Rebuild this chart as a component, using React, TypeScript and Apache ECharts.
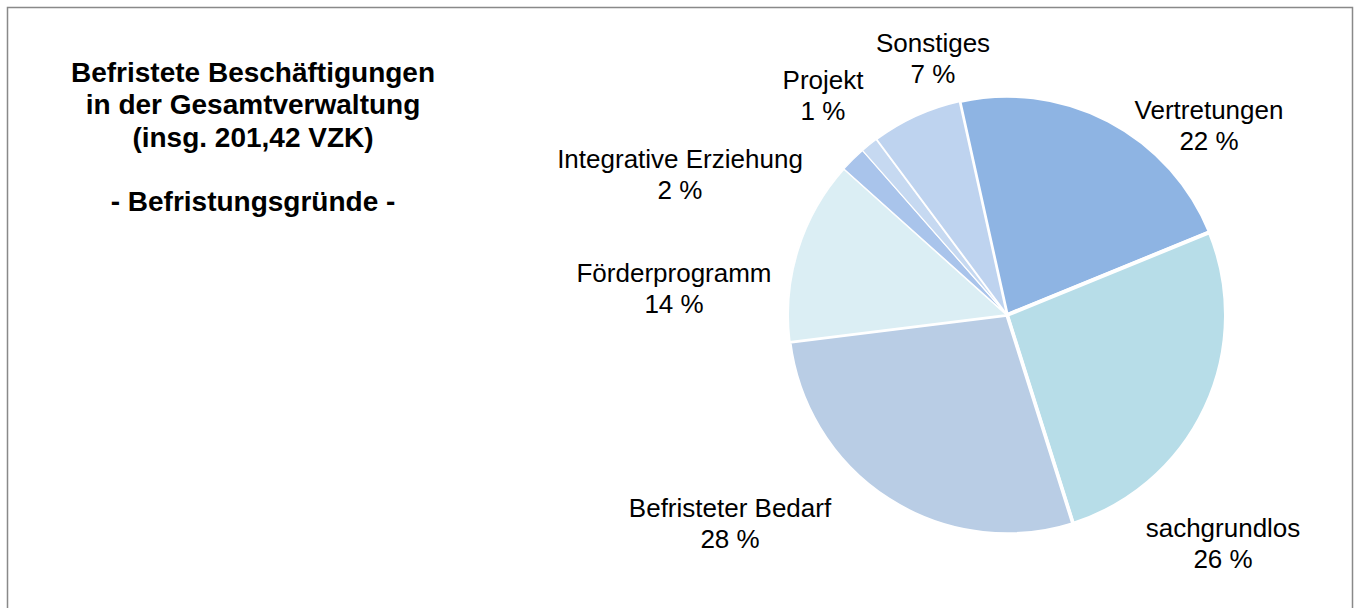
import React, { useEffect, useRef } from "react";
import * as echarts from "echarts";

const categories = [
  "Vertretungen",
  "sachgrundlos",
  "Befristeter Bedarf",
  "Förderprogramm",
  "Integrative Erziehung",
  "Projekt",
  "Sonstiges",
];
const shares = [22.3, 26.3, 27.9, 13.6, 1.9, 1.3, 6.7];
const colors = ["#8EB4E3", "#B7DDE8", "#B9CDE5", "#DBEEF4", "#A9C4EB", "#C6D9F1", "#BED3EF"];
const titleLines = [
  "Befristete Beschäftigungen",
  "in der Gesamtverwaltung",
  "(insg. 201,42 VZK)",
  "",
  "- Befristungsgründe -",
];

// styling: white separator widths per slice
const borderWidths = [3.5, 4, 3.5, 2, 1.2, 1.2, 2];

// label block centers (layout)
const labelPos: [number, number][] = [
  [1209, 125],
  [1223, 543.5],
  [730, 523.5],
  [674, 288.5],
  [680, 174],
  [823, 95],
  [933, 58.5],
];

export default function App() {
  const ref = useRef<HTMLDivElement>(null);
  useEffect(() => {
    document.body.style.margin = "0";
    const chart = echarts.init(ref.current!, null, { renderer: "svg" });
    const font = "'Liberation Sans', Arial, sans-serif";
    chart.setOption({
      animation: false,
      backgroundColor: "#ffffff",
      title: {
        text: titleLines.join("\n"),
        left: 253,
        top: 56.5,
        textAlign: "center",
        padding: 0,
        textStyle: {
          fontFamily: font,
          fontSize: 28,
          fontWeight: "bold",
          color: "#000000",
          lineHeight: 32.3,
        },
      },
      graphic: [
        {
          type: "rect",
          silent: true,
          z: -10,
          shape: { x: 7.5, y: 7.5, width: 1345, height: 700 },
          style: { fill: "none", stroke: "#898989", lineWidth: 1.5 },
        },
      ],
      series: [
        {
          type: "pie",
          center: [1007, 315],
          radius: [0, 219],
          startAngle: 102.5,
          clockwise: true,
          avoidLabelOverlap: false,
          emphasis: { disabled: true },
          label: {
            show: true,
            position: "outside",
            fontFamily: font,
            fontSize: 26,
            lineHeight: 31,
            color: "#000000",
            align: "center",
            formatter: (p: any) => `${p.name}\n${Math.round(p.value)} %`,
          },
          labelLine: { show: false },
          labelLayout: (params: any) => {
            const pos = labelPos[params.dataIndex];
            return {
              x: pos[0],
              y: pos[1],
              align: "center",
              verticalAlign: "middle",
            };
          },
          data: categories.map((name, i) => ({
            name,
            value: shares[i],
            itemStyle: { color: colors[i], borderColor: "#ffffff", borderWidth: borderWidths[i] },
          })),
        },
      ],
    });
    return () => chart.dispose();
  }, []);
  return <div ref={ref} style={{ width: 1357, height: 608 }} />;
}
